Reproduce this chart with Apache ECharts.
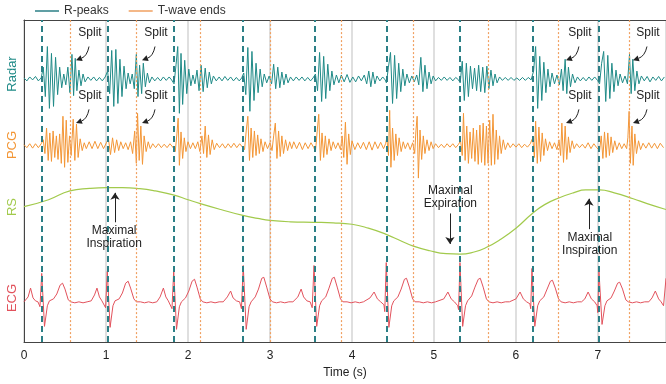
<!DOCTYPE html>
<html>
<head>
<meta charset="utf-8">
<script src="https://cdn.jsdelivr.net/npm/echarts@6/dist/echarts.min.js"></script>
<style>
  html, body { margin: 0; padding: 0; background: #fff; }
  #chart { width: 666px; height: 384px; }
</style>
</head>
<body>
<div id="chart"></div>
<script>
// event times (s)
var rPeaks = [0.216, 1.016, 1.826, 2.674, 3.537, 4.418, 5.317, 6.195, 7.012];
var tWaveEnds = [0.569, 1.374, 2.155, 3.0, 3.87, 4.747, 5.662, 6.524, 7.382];

// radar signal [t, amplitude]
var radarData = [
  [0.00,0.1],[0.035,-0.2],[0.07,0.2],[0.105,-0.1],[0.14,0.25],[0.175,-0.2],[0.21,0.1],
  [0.235,1.2],[0.26,-1.8],[0.285,3.3],[0.31,-3.0],[0.335,2.6],[0.36,-2.8],[0.385,2.2],[0.41,-1.6],[0.435,1.2],[0.46,-0.9],[0.485,0.5],
  [0.51,-0.6],[0.535,1.2],[0.56,-1.4],[0.585,2.5],[0.605,-1.7],[0.625,2.1],[0.645,-1.2],[0.67,0.9],[0.695,-0.7],[0.72,0.5],[0.745,-0.3],
  [0.78,0.2],[0.815,-0.15],[0.85,0.2],[0.885,-0.2],[0.92,0.15],[0.955,-0.2],[0.99,0.2],
  [1.02,0.8],[1.045,-1.5],[1.07,2.9],[1.095,-2.8],[1.12,3.0],[1.145,-2.5],[1.17,2.0],[1.195,-1.8],[1.22,1.3],[1.245,-1.0],[1.27,0.6],[1.295,-0.5],
  [1.32,0.5],[1.345,-1.0],[1.37,2.5],[1.39,-1.8],[1.41,1.4],[1.435,-1.5],[1.455,1.6],[1.48,-0.8],[1.505,0.6],[1.53,-0.4],
  [1.56,0.2],[1.595,-0.2],[1.63,0.15],[1.665,-0.2],[1.70,0.2],[1.735,-0.15],[1.77,0.2],[1.80,-0.1],
  [1.83,-0.5],[1.855,1.5],[1.875,3.3],[1.895,-3.5],[1.915,2.6],[1.935,-2.6],[1.96,1.9],[1.985,-1.5],[2.01,1.0],[2.035,-0.7],[2.06,0.4],[2.085,-0.5],
  [2.11,0.9],[2.135,-1.2],[2.16,1.4],[2.185,-1.3],[2.21,1.1],[2.235,-0.9],[2.26,0.7],[2.285,-0.5],
  [2.31,0.3],[2.345,-0.2],[2.38,0.2],[2.415,-0.2],[2.45,0.25],[2.485,-0.15],[2.52,0.2],[2.555,-0.2],[2.59,0.15],[2.625,-0.2],[2.655,0.1],
  [2.68,0.6],[2.705,-1.6],[2.73,3.2],[2.755,-3.3],[2.78,2.8],[2.805,-2.2],[2.83,1.6],[2.855,-1.4],[2.88,1.0],[2.905,-0.8],[2.93,0.5],[2.96,-0.4],[2.99,0.3],[3.02,-0.5],
  [3.045,1.5],[3.07,-1.0],[3.095,1.2],[3.12,-0.9],[3.145,0.7],[3.17,-0.6],[3.195,0.5],[3.22,-0.4],
  [3.25,0.2],[3.285,-0.2],[3.32,0.2],[3.355,-0.15],[3.39,0.2],[3.425,-0.2],[3.46,0.15],[3.495,-0.2],[3.525,0.1],
  [3.555,0.5],[3.58,-1.2],[3.605,2.7],[3.63,-2.3],[3.655,2.3],[3.68,-2.0],[3.705,1.5],[3.73,-1.2],[3.755,0.8],[3.78,-0.6],[3.81,0.4],[3.84,-0.4],
  [3.87,0.4],[3.905,-0.3],[3.94,0.45],[3.975,-0.35],[4.01,0.2],[4.045,-0.3],[4.08,0.3],[4.115,-0.2],[4.15,0.4],[4.18,-0.5],[4.205,0.8],[4.23,-0.8],[4.255,0.7],[4.28,-0.5],[4.305,0.3],[4.34,-0.2],[4.375,0.2],[4.405,-0.1],
  [4.42,-0.4],[4.445,1.2],[4.47,2.7],[4.495,-2.5],[4.52,2.4],[4.545,-2.0],[4.57,1.6],[4.595,-1.3],[4.62,1.0],[4.645,-0.7],[4.67,0.5],[4.70,-0.4],[4.73,0.3],[4.76,-0.3],[4.79,0.4],
  [4.815,-0.6],[4.84,2.2],[4.865,-1.3],[4.89,1.4],[4.915,-1.0],[4.94,0.7],[4.965,-0.5],[4.99,0.3],
  [5.02,-0.2],[5.055,0.15],[5.09,-0.15],[5.125,0.2],[5.16,-0.15],[5.195,0.15],[5.23,-0.2],[5.265,0.15],[5.30,-0.1],
  [5.32,-0.4],[5.345,1.8],[5.37,-2.2],[5.395,1.6],[5.42,-1.8],[5.445,1.3],[5.47,-1.0],[5.495,1.1],[5.52,-1.2],[5.545,1.4],[5.57,-1.3],[5.595,1.2],[5.62,-1.4],[5.645,1.3],[5.67,-1.0],[5.695,0.9],[5.72,-0.7],[5.745,0.5],[5.77,-0.4],
  [5.80,0.2],[5.835,-0.15],[5.87,0.15],[5.905,-0.15],[5.94,0.15],[5.975,-0.15],[6.01,0.1],[6.045,-0.15],[6.08,0.15],[6.115,-0.15],[6.15,0.15],[6.185,-0.1],
  [6.215,0.8],[6.24,3.3],[6.265,-3.0],[6.29,2.3],[6.315,-2.2],[6.34,1.7],[6.365,-1.4],[6.39,1.0],[6.415,-0.8],[6.44,0.6],[6.47,-0.5],[6.50,0.4],[6.53,-0.6],
  [6.555,1.0],[6.575,-1.2],[6.60,2.0],[6.62,-1.5],[6.64,1.2],[6.665,-0.8],[6.69,0.5],[6.72,-0.4],
  [6.75,0.2],[6.785,-0.2],[6.82,0.15],[6.855,-0.2],[6.89,0.2],[6.925,-0.15],[6.96,0.2],[6.995,-0.15],
  [7.02,-0.5],[7.045,1.6],[7.07,2.8],[7.095,-2.3],[7.12,2.4],[7.145,-2.0],[7.17,1.6],[7.195,-1.3],[7.22,0.9],[7.245,-0.7],[7.27,0.5],[7.30,-0.4],[7.33,0.3],[7.36,-0.5],
  [7.385,2.5],[7.405,-1.5],[7.425,2.0],[7.45,-1.2],[7.475,0.8],[7.50,-0.5],
  [7.53,0.3],[7.565,-0.2],[7.60,0.25],[7.635,-0.3],[7.67,0.2],[7.705,-0.15],[7.74,0.25],[7.775,-0.2],[7.81,0.2]
];

// heart sound signal [t, amplitude]
var pcgData = [
  [0.00,0.1],[0.035,-0.2],[0.07,0.2],[0.105,-0.25],[0.14,0.2],[0.175,-0.2],[0.21,0.2],
  [0.235,0.6],[0.255,-0.8],[0.275,1.8],[0.295,-1.5],[0.315,1.3],[0.335,-1.6],[0.355,1.5],[0.375,-1.2],[0.395,1.0],[0.415,-1.4],[0.435,1.2],[0.455,-1.8],[0.475,3.0],[0.495,-2.2],[0.515,2.6],[0.535,-1.7],[0.555,1.0],[0.575,-1.0],[0.60,2.7],[0.62,-1.5],[0.64,2.2],[0.66,-1.2],[0.685,0.7],[0.71,-0.5],[0.735,0.3],
  [0.76,-0.3],[0.795,0.4],[0.83,-0.3],[0.865,0.45],[0.90,-0.3],[0.935,0.35],[0.97,-0.3],[1.005,0.3],
  [1.03,0.7],[1.055,-0.9],[1.08,0.8],[1.105,-0.7],[1.13,0.6],[1.155,-0.5],[1.18,0.4],[1.21,-0.3],[1.24,0.3],[1.27,-0.4],[1.30,0.4],[1.325,-0.8],[1.35,1.5],[1.37,-1.8],[1.385,3.3],[1.405,-1.5],[1.425,2.0],[1.445,-1.9],[1.465,1.0],[1.49,-0.6],[1.515,0.4],[1.54,-0.3],
  [1.57,0.2],[1.605,-0.2],[1.64,0.2],[1.675,-0.2],[1.71,0.15],[1.745,-0.2],[1.78,0.2],[1.815,-0.15],
  [1.845,-0.6],[1.865,1.2],[1.88,2.8],[1.895,-2.0],[1.915,1.4],[1.935,-1.3],[1.955,0.8],[1.975,-0.6],[2.0,0.4],[2.03,-0.3],[2.06,0.3],[2.09,-0.3],
  [2.12,0.4],[2.145,-0.6],[2.17,1.0],[2.19,-0.8],[2.21,2.0],[2.23,-1.2],[2.25,1.1],[2.27,-0.9],[2.295,0.6],[2.32,-0.4],
  [2.35,0.25],[2.385,-0.2],[2.42,0.2],[2.455,-0.25],[2.49,0.2],[2.525,-0.2],[2.56,0.25],[2.595,-0.2],[2.63,0.2],[2.665,-0.15],
  [2.69,-0.4],[2.71,1.5],[2.73,3.0],[2.75,-1.5],[2.77,1.8],[2.79,-1.2],[2.81,1.5],[2.83,-1.0],[2.85,1.1],[2.87,-0.8],[2.89,0.7],[2.915,-0.6],[2.94,0.4],[2.97,-0.3],[3.0,0.3],
  [3.025,-0.5],[3.045,1.0],[3.065,2.3],[3.085,-1.3],[3.105,1.5],[3.125,-1.1],[3.145,1.0],[3.165,-0.8],[3.19,0.6],[3.215,-0.5],[3.24,0.4],[3.265,-0.3],
  [3.29,0.4],[3.325,-0.3],[3.36,0.35],[3.395,-0.4],[3.43,0.3],[3.465,-0.3],[3.50,0.3],[3.535,-0.2],
  [3.555,-0.6],[3.575,1.4],[3.595,3.2],[3.615,-1.5],[3.635,1.3],[3.655,-1.2],[3.675,1.0],[3.695,-0.9],[3.72,0.7],[3.745,-0.5],[3.77,0.4],[3.80,-0.3],[3.83,0.3],[3.86,-0.4],
  [3.88,1.0],[3.90,-1.2],[3.92,2.4],[3.94,-1.9],[3.96,1.2],[3.98,-0.9],
  [4.0,0.5],[4.035,-0.4],[4.07,0.3],[4.105,-0.3],[4.14,0.35],[4.175,-0.4],[4.21,0.4],[4.245,-0.45],[4.28,0.4],[4.315,-0.3],[4.35,0.35],[4.385,-0.3],[4.41,0.2],
  [4.425,0.8],[4.445,-1.0],[4.46,3.6],[4.475,-2.2],[4.495,1.8],[4.515,-1.5],[4.535,1.2],[4.555,-1.0],[4.575,0.8],[4.60,-0.6],[4.625,0.4],[4.65,-0.3],[4.68,0.3],[4.71,-0.4],[4.74,0.3],
  [4.765,-0.8],[4.78,1.5],[4.795,3.0],[4.81,-3.3],[4.83,1.6],[4.85,-1.4],[4.87,1.0],[4.89,-0.8],[4.915,0.6],[4.94,-0.5],[4.965,0.4],[4.99,-0.3],
  [5.02,0.2],[5.055,-0.2],[5.09,0.15],[5.125,-0.2],[5.16,0.2],[5.195,-0.15],[5.23,0.2],[5.265,-0.2],[5.30,0.15],
  [5.325,0.5],[5.345,-1.0],[5.36,3.3],[5.38,-1.5],[5.40,2.0],[5.42,-1.8],[5.44,1.4],[5.46,-1.3],[5.48,1.8],[5.50,-1.6],[5.52,1.6],[5.54,-1.9],[5.56,2.1],[5.58,-1.7],[5.60,2.3],[5.62,-2.0],[5.64,2.0],[5.66,-1.8],[5.68,2.6],[5.70,-2.0],[5.72,3.2],[5.74,-1.9],[5.76,1.6],[5.78,-1.4],[5.80,1.0],[5.82,-0.8],[5.845,0.6],[5.87,-0.4],[5.90,0.3],
  [5.93,-0.2],[5.965,0.2],[6.00,-0.15],[6.035,0.2],[6.07,-0.2],[6.105,0.15],[6.14,-0.15],[6.175,0.2],
  [6.205,0.8],[6.225,-1.2],[6.24,2.5],[6.26,-1.8],[6.28,1.9],[6.30,-1.6],[6.32,1.3],[6.34,-1.0],[6.36,0.7],[6.385,-0.5],[6.41,0.4],[6.44,-0.3],[6.47,0.3],[6.50,-0.4],
  [6.525,0.6],[6.545,-1.0],[6.56,2.3],[6.58,-1.7],[6.60,2.0],[6.62,-1.4],[6.64,0.9],[6.66,-0.7],[6.685,0.5],[6.71,-0.3],
  [6.74,0.2],[6.775,-0.2],[6.81,0.15],[6.845,-0.25],[6.88,0.3],[6.915,-0.3],[6.95,0.2],[6.985,-0.2],
  [7.02,-0.5],[7.04,1.0],[7.06,-1.3],[7.08,1.4],[7.10,-1.2],[7.12,1.3],[7.14,-1.0],[7.16,0.9],[7.18,-0.7],[7.205,0.5],[7.23,-0.4],[7.26,0.3],[7.29,-0.3],[7.32,0.2],[7.35,-0.3],
  [7.365,0.8],[7.38,3.5],[7.395,-1.8],[7.415,2.0],[7.43,-2.0],[7.45,1.2],[7.47,-0.8],[7.495,0.5],[7.52,-0.4],
  [7.55,0.25],[7.585,-0.25],[7.62,0.3],[7.655,-0.25],[7.69,0.25],[7.725,-0.3],[7.76,0.25],[7.80,-0.2]
];

// respiration signal [t, level]
var rsData = [
  [0,5.0],[0.3,5.7],[0.56,6.6],[0.8,6.85],[1.01,6.93],[1.2,6.93],[1.41,6.83],[1.6,6.6],[1.82,6.2],[2.0,5.7],
  [2.15,5.3],[2.4,4.7],[2.67,4.1],[2.85,3.8],[3.0,3.6],[3.25,3.45],[3.53,3.4],[3.77,3.35],[4.0,3.2],[4.2,2.8],
  [4.41,2.2],[4.6,1.5],[4.74,1.0],[4.95,0.5],[5.15,0.2],[5.32,0.15],[5.5,0.4],[5.63,0.8],[5.8,1.6],[6.0,2.8],
  [6.2,4.3],[6.35,5.2],[6.53,5.9],[6.7,6.4],[6.85,6.7],[7.02,6.7],[7.2,6.4],[7.43,5.8],[7.6,5.3],[7.83,4.7]
];

// ecg signal [t, amplitude]
var ecgData = [
  [0,0.1],[0.02,0.2],
  [0.05,0.6],[0.08,1.5],[0.11,0.5],[0.14,0.2],[0.17,0.1],[0.195,-0.4],[0.216,3.0],[0.25,-2.4],[0.285,-0.3],[0.31,0.2],[0.36,0.4],[0.40,0.9],[0.44,1.8],[0.47,2.0],[0.50,1.4],[0.54,0.3],[0.57,0.1],[0.62,0.0],[0.67,0.1],[0.72,0.0],[0.77,0.1],[0.82,0.2],
  [0.86,0.8],[0.89,1.5],[0.92,0.6],[0.95,0.2],[0.97,0.1],[0.995,-0.5],[1.016,3.2],[1.05,-2.5],[1.085,-0.3],[1.11,0.2],[1.16,0.4],[1.20,1.0],[1.24,2.0],[1.27,2.2],[1.30,1.5],[1.34,0.4],[1.37,0.1],[1.42,0.1],[1.47,0.0],[1.52,0.1],[1.57,0.0],[1.62,0.1],
  [1.66,0.6],[1.70,1.5],[1.73,0.6],[1.76,0.2],[1.78,0.1],[1.805,-0.6],[1.826,3.3],[1.86,-2.7],[1.895,-0.4],[1.92,0.1],[1.97,0.5],[2.01,1.2],[2.05,2.2],[2.08,2.4],[2.11,1.6],[2.15,0.4],[2.18,0.1],[2.23,0.0],[2.28,0.1],[2.33,0.0],[2.38,0.1],[2.43,0.1],
  [2.48,0.6],[2.52,1.2],[2.55,0.5],[2.59,0.2],[2.63,0.1],[2.652,-0.6],[2.674,3.8],[2.71,-2.7],[2.745,-0.4],[2.77,0.1],[2.82,0.6],[2.86,1.4],[2.90,2.5],[2.925,2.6],[2.96,1.6],[3.0,0.4],[3.03,0.1],[3.08,0.0],[3.13,0.1],[3.18,0.0],[3.23,0.1],[3.28,0.1],
  [3.34,0.6],[3.38,1.4],[3.41,0.6],[3.45,0.2],[3.49,0.1],[3.515,-0.5],[3.537,3.8],[3.57,-2.4],[3.605,-0.3],[3.63,0.2],[3.68,0.6],[3.72,1.5],[3.76,2.5],[3.785,2.6],[3.82,1.6],[3.86,0.4],[3.89,0.1],[3.94,0.1],[3.99,0.0],[4.04,0.1],[4.09,0.0],[4.14,0.1],
  [4.22,0.5],[4.27,1.1],[4.31,0.4],[4.35,0.1],[4.39,-0.2],[4.40,-0.9],[4.418,4.1],[4.45,-2.5],[4.485,-0.3],[4.51,0.2],[4.56,0.6],[4.60,1.4],[4.64,2.4],[4.665,2.5],[4.70,1.6],[4.74,0.4],[4.77,0.1],[4.82,0.1],[4.87,0.0],[4.92,0.1],[4.97,0.0],[5.02,0.1],
  [5.12,0.4],[5.17,1.1],[5.21,0.4],[5.25,0.1],[5.29,-0.3],[5.30,-0.7],[5.317,4.1],[5.35,-2.4],[5.385,-0.3],[5.41,0.2],[5.46,0.7],[5.50,1.6],[5.54,2.4],[5.565,2.5],[5.60,1.6],[5.64,0.4],[5.67,0.1],[5.72,0.0],[5.77,0.1],[5.82,0.0],[5.87,0.1],[5.92,0.1],
  [6.00,0.4],[6.05,1.1],[6.09,0.4],[6.13,0.1],[6.17,-0.1],[6.18,-0.6],[6.195,3.5],[6.23,-2.4],[6.265,-0.3],[6.29,0.2],[6.34,0.6],[6.38,1.4],[6.42,2.2],[6.445,2.3],[6.48,1.5],[6.52,0.4],[6.55,0.1],[6.60,0.0],[6.65,0.1],[6.70,0.0],[6.75,0.1],[6.80,0.1],
  [6.84,0.4],[6.88,1.1],[6.92,0.4],[6.96,0.1],[6.99,-0.3],[6.998,-1.0],[7.012,3.3],[7.05,-2.2],[7.085,-0.3],[7.11,0.2],[7.16,0.5],[7.20,1.2],[7.24,2.0],[7.265,2.1],[7.30,1.4],[7.34,0.3],[7.37,0.1],[7.42,0.0],[7.47,0.1],[7.52,0.0],[7.57,0.1],[7.62,0.1],
  [7.66,0.5],[7.70,1.2],[7.74,0.4],[7.77,0.1],[7.80,-0.3],[7.83,2.5]
];

var TEAL = "#1f8a87", ORANGE = "#f39636", GREEN = "#a2ca4c", RED = "#e2525c";
var FONT = "Liberation Sans";

// split annotations: [text t, arrow start t, arrow end t]
var splitTimes = [[0.805, 0.793, 0.634], [1.61, 1.598, 1.439], [6.78, 6.768, 6.61], [7.61, 7.598, 7.427]];

var markTextStyle = { show: true, position: "inside", formatter: "{b}", color: "#222", fontSize: 12, fontFamily: FONT, lineHeight: 13 };

function splitLabels(textV) {
  return splitTimes.map(function (s) { return { name: "Split", coord: [s[0], textV] }; });
}

function vline(times, color, width, type) {
  return {
    silent: true, symbol: "none", animation: false, label: { show: false },
    lineStyle: { color: color, width: width, type: type },
    data: times.map(function (t) { return { xAxis: t }; })
  };
}

var chart = echarts.init(document.getElementById("chart"));

var hiddenY = function (min, max) {
  return { type: "value", min: min, max: max, show: false, splitLine: { show: false } };
};

function axisTitle(id, text, y, color) {
  return { type: "text", id: id, x: 12, y: y, rotation: Math.PI / 2,
    style: { text: text, fill: color, font: "13px " + FONT, textAlign: "center", textVerticalAlign: "middle" } };
}

var option = {
  animation: false,
  textStyle: { fontFamily: FONT },
  grid: { left: 24, right: 0, top: 20, bottom: 36 },
  legend: {
    data: ["R-peaks", "T-wave ends"],
    left: 30, top: 0, icon: "rect", itemWidth: 24, itemHeight: 1.5, itemGap: 20,
    textStyle: { color: "#333", fontSize: 12, fontFamily: FONT }
  },
  xAxis: [
    {
      type: "value", min: 0, max: 7.83, interval: 1,
      name: "Time (s)", nameLocation: "middle", nameGap: 24,
      nameTextStyle: { color: "#222", fontSize: 12 },
      axisLine: { onZero: false, lineStyle: { color: "#444", width: 1 } },
      axisTick: { show: false },
      axisLabel: { color: "#222", fontSize: 12, margin: 8, showMaxLabel: false },
      splitLine: { show: true, lineStyle: { color: "#d4d4d4", width: 1.5 } }
    },
    {
      type: "value", min: 0, max: 7.83, position: "top",
      axisLine: { show: true, onZero: false, lineStyle: { color: "#444", width: 1 } },
      axisTick: { show: false }, axisLabel: { show: false }, splitLine: { show: false }
    }
  ],
  yAxis: [
    {
      type: "value", min: -26.8, max: 6,
      axisLine: { show: true, onZero: false, lineStyle: { color: "#444", width: 1 } },
      axisTick: { show: false }, axisLabel: { show: false }, splitLine: { show: false }
    },
    hiddenY(-20, 12.8),
    hiddenY(-8.8, 24),
    hiddenY(-4, 28.8)
  ],
  graphic: [
    axisTitle("tRadar", "Radar", 74, TEAL),
    axisTitle("tPcg", "PCG", 145, ORANGE),
    axisTitle("tRs", "RS", 207, GREEN),
    axisTitle("tEcg", "ECG", 298, RED)
  ],
  series: [
    {
      name: "Radar", type: "line", yAxisIndex: 0, data: radarData, showSymbol: false,
      lineStyle: { color: TEAL, width: 1 }, itemStyle: { color: TEAL }, z: 3,
      markPoint: { symbol: "rect", symbolSize: 1, itemStyle: { color: "rgba(0,0,0,0)" }, label: markTextStyle, data: splitLabels(4.7) }
    },
    {
      name: "PCG", type: "line", yAxisIndex: 1, data: pcgData, showSymbol: false,
      lineStyle: { color: ORANGE, width: 1 }, itemStyle: { color: ORANGE }, z: 3,
      markPoint: { symbol: "rect", symbolSize: 1, itemStyle: { color: "rgba(0,0,0,0)" }, label: markTextStyle, data: splitLabels(5.1) }
    },
    {
      name: "RS", type: "line", yAxisIndex: 2, data: rsData, showSymbol: false, smooth: true,
      lineStyle: { color: GREEN, width: 1.2 }, itemStyle: { color: GREEN }, z: 3,
      markPoint: {
        symbol: "rect", symbolSize: 1, itemStyle: { color: "rgba(0,0,0,0)" }, label: markTextStyle,
        data: [
          { name: "Maximal\nInspiration", coord: [1.1, 1.9] },
          { name: "Maximal\nExpiration", coord: [5.2, 6.0] },
          { name: "Maximal\nInspiration", coord: [6.9, 1.2] }
        ]
      },
      markLine: {
        silent: true, symbol: ["none", "arrow"], symbolSize: 7, label: { show: false },
        lineStyle: { color: "#222", width: 1, type: "solid" },
        data: [
          [{ coord: [1.11, 3.4] }, { coord: [1.11, 6.4] }],
          [{ coord: [5.195, 4.3] }, { coord: [5.195, 1.2] }],
          [{ coord: [6.89, 2.7] }, { coord: [6.89, 5.8] }]
        ]
      }
    },
    {
      name: "ECG", type: "line", yAxisIndex: 3, data: ecgData, showSymbol: false,
      lineStyle: { color: RED, width: 1 }, itemStyle: { color: RED }, z: 3
    },
    {
      name: "R-peaks", type: "line", yAxisIndex: 0, data: [], showSymbol: false,
      lineStyle: { color: "#2b7f86", width: 2 }, itemStyle: { color: "#2b7f86" }, z: 6,
      markLine: vline(rPeaks, "#2b7f86", 2, [6, 4])
    },
    {
      name: "T-wave ends", type: "line", yAxisIndex: 0, data: [], showSymbol: false,
      lineStyle: { color: "#f0a060", width: 1.2 }, itemStyle: { color: "#f0a060" }, z: 5,
      markLine: vline(tWaveEnds, "#f0a060", 1.2, [2, 2])
    }
  ]
};

chart.setOption(option);

// curved "Split" arrows, placed through the axes
function curvedArrows(yIndex, fromV, toV, prefix) {
  var els = [];
  splitTimes.forEach(function (s, i) {
    var a = chart.convertToPixel({ xAxisIndex: 0, yAxisIndex: yIndex }, [s[1], fromV]);
    var b = chart.convertToPixel({ xAxisIndex: 0, yAxisIndex: yIndex }, [s[2], toV]);
    var dx = a[0] - b[0], dy = b[1] - a[1];
    var cp = [a[0] - 0.15 * dx, b[1] - 0.3 * dy];
    var ux = b[0] - cp[0], uy = b[1] - cp[1];
    var len = Math.sqrt(ux * ux + uy * uy); ux /= len; uy /= len;
    var h = 6, w = 3;
    var base = [b[0] - ux * h, b[1] - uy * h];
    els.push({ type: "bezierCurve", id: prefix + "c" + i, z: 20,
      shape: { x1: a[0], y1: a[1], x2: base[0], y2: base[1], cpx1: cp[0], cpy1: cp[1] },
      style: { stroke: "#222", lineWidth: 1, fill: null } });
    els.push({ type: "polygon", id: prefix + "h" + i, z: 20,
      shape: { points: [[b[0], b[1]], [base[0] - uy * w, base[1] + ux * w], [base[0] + uy * w, base[1] - ux * w]] },
      style: { fill: "#222" } });
  });
  return els;
}

chart.setOption({ graphic: curvedArrows(0, 3.3, 1.9, "r").concat(curvedArrows(1, 3.7, 2.3, "p")) });
</script>
</body>
</html>
